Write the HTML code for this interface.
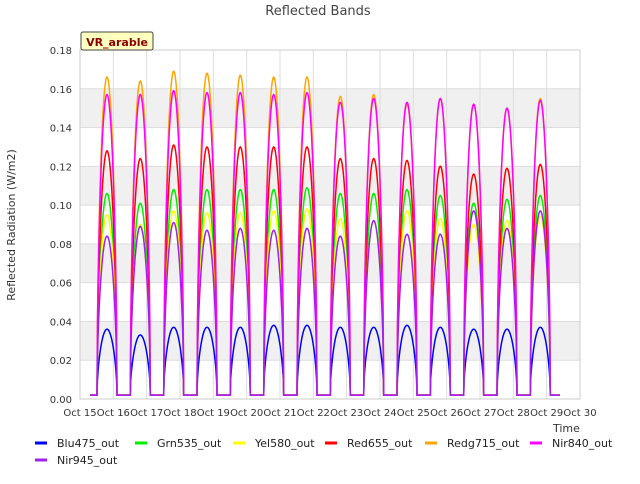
<!DOCTYPE html>
<html><head><meta charset="utf-8"><style>
body{margin:0;background:#fff;font-family:"DejaVu Sans","Liberation Sans",sans-serif;}
svg text{font-family:"DejaVu Sans","Liberation Sans",sans-serif;}
</style></head><body>
<svg id="c" width="640" height="480">
<text x="318" y="15" text-anchor="middle" font-size="13" fill="#444">Reflected Bands</text>
<g id="grid"></g><g id="series"></g><g id="axes"></g>
<rect x="81" y="32" width="72" height="18" fill="#ffffc0" stroke="#444" rx="2"/>
<text x="117" y="46" text-anchor="middle" font-size="11" font-weight="bold" fill="#8b0000">VR_arable</text>
<text x="15" y="225" transform="rotate(-90 15 225)" text-anchor="middle" font-size="11" fill="#333">Reflected Radiation (W/m2)</text>
<text x="553" y="432" font-size="11" fill="#333">Time</text>
<g id="legend"></g>
</svg>
<script>
const bandNames=["Blu475_out","Grn535_out","Yel580_out","Red655_out","Redg715_out","Nir840_out","Nir945_out"];
const bandColors=["#0000ff","#00ee00","#ffff00","#ff0000","#ffa500","#ff00ff","#a020f0"];
const blu=[.036,.033,.037,.037,.037,.038,.038,.037,.037,.038,.037,.036,.036,.037];
const grn=[.106,.101,.108,.108,.108,.108,.109,.106,.106,.108,.105,.101,.103,.105];
const yel=[.095,.090,.097,.096,.096,.097,.098,.093,.092,.097,.093,.090,.092,.094];
const red=[.128,.124,.131,.130,.130,.130,.130,.124,.124,.123,.120,.116,.119,.121];
const redg=[.166,.164,.169,.168,.167,.166,.166,.156,.157,.152,.155,.152,.150,.155];
const nir840=[.157,.157,.159,.158,.158,.157,.158,.153,.155,.153,.155,.152,.150,.154];
const nir945=[.084,.089,.091,.087,.088,.087,.088,.084,.092,.085,.085,.097,.088,.097];
const yTicks=[0,0.02,0.04,0.06,0.08,0.10,0.12,0.14,0.16,0.18];
const xTicks=["Oct 15","Oct 16","Oct 17","Oct 18","Oct 19","Oct 20","Oct 21","Oct 22","Oct 23","Oct 24","Oct 25","Oct 26","Oct 27","Oct 28","Oct 29","Oct 30"];
const NS="http://www.w3.org/2000/svg";
const L=80,R=580,T=50,B=399;
const xs=d=>L+(R-L)*d/15, ys=v=>B-(B-T)*v/0.18;
function mk(t,a,p){const e=document.createElementNS(NS,t);for(const k in a)e.setAttribute(k,a[k]);document.getElementById(p).appendChild(e);return e;}
for(let i=0;i<9;i++){
 if(i%2==1){const r=mk('rect',{x:L,y:ys(yTicks[i+1]),width:R-L,height:ys(yTicks[i])-ys(yTicks[i+1]),fill:'#f0f0f0'},'grid');
 }
}
yTicks.forEach(v=>{const l=mk('line',{x1:L,x2:R,y1:ys(v),y2:ys(v),stroke:'#ddd'},'grid');
 const t=mk('text',{x:L-8,y:ys(v)+4,'text-anchor':'end','font-size':'10',fill:'#333'},'axes');t.textContent=v.toFixed(2);
 });
xTicks.forEach((s,i)=>{const l=mk('line',{x1:xs(i),x2:xs(i),y1:T,y2:B,stroke:'#ddd'},'grid');
 const t=mk('text',{x:xs(i),y:B+17,'text-anchor':'middle','font-size':'10',fill:'#333'},'axes');t.textContent=s;
 });
const fr=mk('rect',{x:L,y:T,width:R-L,height:B-T,fill:'none',stroke:'#ccc'},'axes');
const all=[blu,grn,yel,red,redg,nir840,nir945];
all.forEach((pk,b)=>{
 let pts=[];const base=0.002;
 pts.push([xs(0.3),ys(base)]);
 pk.forEach((p,i)=>{const c=i+0.81,w=0.3;
  for(let k=-20;k<=20;k++){const t=c+w*k/20;const f=Math.pow(Math.cos(Math.PI/2*k/20),0.55);pts.push([xs(t),ys(base+(p-base)*f)]);}
  if(i<pk.length-1)pts.push([xs(c+0.5),ys(base)]);
 });
 pts.push([xs(14.4),ys(base)]);
 const pl=mk('polyline',{points:pts.map(q=>q[0].toFixed(1)+','+q[1].toFixed(1)).join(' '),fill:'none',stroke:bandColors[b],'stroke-width':1.5},'series');
 
 
});
const lp=[[35,443],[135,443],[233,443],[325,443],[425,443],[530,443],[35,460]];
bandNames.forEach((n,i)=>{const [x,y]=lp[i];
 const l=mk('line',{x1:x,x2:x+12,y1:y,y2:y,stroke:bandColors[i],'stroke-width':3},'legend');
 
 const t=mk('text',{x:x+22,y:y+4,'font-size':'11',fill:'#222'},'legend');t.textContent=n;
 });
</script>
</body></html>
